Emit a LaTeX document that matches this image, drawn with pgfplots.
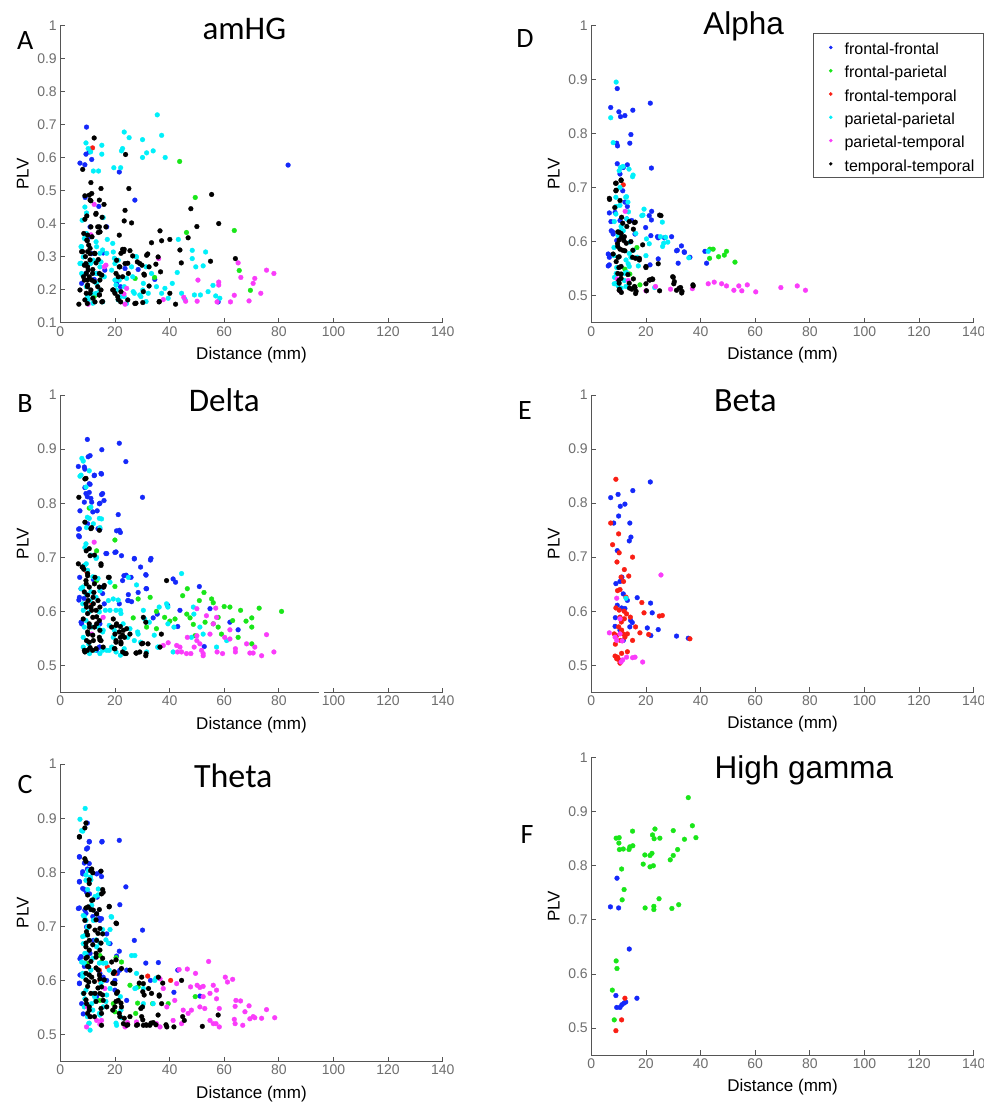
\documentclass[border=0pt]{standalone}
\usepackage{fontspec}
\setmainfont{Liberation Sans}
\newfontfamily\calfont{Carlito}
\usepackage{pgfplots}
\pgfplotsset{compat=1.18}

\definecolor{axgray}{RGB}{85,85,85}
\definecolor{tickgray}{RGB}{110,110,110}
\definecolor{ffc}{RGB}{20,40,250}
\definecolor{fpc}{RGB}{25,230,25}
\definecolor{ftc}{RGB}{250,30,20}
\definecolor{ppc}{RGB}{0,240,250}
\definecolor{ptc}{RGB}{250,60,250}
\definecolor{ttc}{RGB}{0,0,0}

\pgfplotsset{
  panel/.style={
    scale only axis, width=382.4pt, height=297.4pt,
    xmin=0, xmax=140, xtick={0,20,40,60,80,100,120,140},
    axis x line=bottom, axis y line=left,
    axis line style={-, draw=axgray, line width=0.9pt},
    tick style={draw=axgray, line width=0.8pt},
    tick align=inside, major tick length=5pt,
    ticklabel style={text=tickgray, font=\fontsize{14}{14}\selectfont},
    /pgf/number format/assume math mode=true,
    yticklabel style={/pgf/number format/fixed, /pgf/number format/precision=1},
    xlabel={Distance (mm)}, ylabel={PLV},
    label style={font=\fontsize{17}{17}\selectfont},
    xlabel style={at={(axis description cs:0.5,-0.108)}, anchor=center},
    ylabel style={at={(axis description cs:-0.098,0.5)}, anchor=center},
  },
  hiband/.style={ymin=0.45, ymax=1, ytick={0.5,0.6,0.7,0.8,0.9,1}},
  dots/.style={only marks, mark=*, mark size=2.4pt, color=#1,
    mark options={draw=#1, fill=#1, line width=0.3pt}},
  ff/.style={dots=ffc}, fp/.style={dots=fpc}, ft/.style={dots=ftc},
  pp/.style={dots=ppc}, pt/.style={dots=ptc}, tt/.style={dots=ttc},
}

\begin{document}
\begin{tikzpicture}
\useasboundingbox (0pt,0pt) rectangle (984pt,-1102pt);

% ---------------- A: amHG ----------------
\begin{axis}[panel, at={(60.3pt,-322.7pt)}, anchor=south west,
  ymin=0.1, ymax=1, ytick={0.1,0.2,0.3,0.4,0.5,0.6,0.7,0.8,0.9,1}]
\addplot[ff] coordinates {(9.6,0.692) (7.2,0.583) (9.0,0.578) (9.4,0.61) (11.5,0.594) (10.6,0.617) (21.6,0.556) (27.3,0.471) (83.4,0.577) (9.1,0.479) (14.1,0.452) (10.9,0.39) (17,0.39) (15.7,0.311) (11.5,0.309) (9.4,0.249) (13.3,0.249) (12.4,0.231) (16.3,0.259) (20.6,0.219) (22,0.209) (23.7,0.264) (28.5,0.261) (34.6,0.231) (57.8,0.163) (7.8,0.219) (10.9,0.36)};
\addplot[fp] coordinates {(43.7,0.588) (49.4,0.479) (46.2,0.373) (63.7,0.379) (65.5,0.258) (69.6,0.198) (27.4,0.234) (34.5,0.237) (14.9,0.244) (12.4,0.179)};
\addplot[ft] coordinates {(11.8,0.629)};
\addplot[pp] coordinates {(35.5,0.729) (23.4,0.677) (37.1,0.667) (25.2,0.66) (30.1,0.654) (22.8,0.627) (22.4,0.62) (31.6,0.614) (34,0.62) (30.1,0.6) (38.4,0.6) (9.4,0.644) (10.2,0.627) (11.1,0.617) (15.2,0.637) (15.2,0.61) (12.1,0.559) (14,0.559) (19.6,0.569) (22.1,0.569) (9,0.45) (9.6,0.432) (8,0.41) (15.7,0.418) (17.2,0.352) (7.8,0.33) (9.6,0.37) (13.3,0.33) (14.5,0.31) (7.2,0.279) (10.9,0.279) (14.5,0.269) (17,0.31) (19.4,0.314) (20,0.279) (21.2,0.289) (18.8,0.259) (20,0.229) (20.6,0.199) (22,0.179) (24.2,0.158) (24.3,0.234) (26.1,0.269) (27.9,0.299) (26.5,0.239) (26.7,0.194) (29.1,0.184) (30.4,0.219) (32.2,0.189) (33.4,0.249) (35.2,0.209) (37.1,0.189) (38.3,0.204) (39.5,0.174) (41,0.219) (42.8,0.252) (43.2,0.352) (44.4,0.189) (45.6,0.171) (48.3,0.319) (48.3,0.294) (49.6,0.269) (49.1,0.184) (51.3,0.184) (52.3,0.272) (53.2,0.314) (54.1,0.194) (55.9,0.213) (56.9,0.181) (58.4,0.174) (7.8,0.249) (9.9,0.209) (11.5,0.189) (14.5,0.199) (15.5,0.163) (8.4,0.299) (12.1,0.289) (19.4,0.199) (21.2,0.169) (13.3,0.219) (10.2,0.169)
 (7.6,0.33) (8.8,0.355) (13.1,0.345) (15.5,0.32) (7.6,0.28) (11.2,0.28) (14.9,0.284) (13.1,0.249) (8.2,0.244) (16.1,0.239) (9.5,0.209) (13.1,0.189) (11.9,0.159) (10,0.179) (19.2,0.34) (19.8,0.295) (21.6,0.229) (20.4,0.214) (23.4,0.209) (23.4,0.179) (27.1,0.189) (29.5,0.179) (30.2,0.199) (31.4,0.164) (27.7,0.3) (31.4,0.269)};
\addplot[pt] coordinates {(12.4,0.458) (11.2,0.366) (16.1,0.269) (16.7,0.274) (36,0.294) (65.1,0.281) (66.1,0.237) (71.2,0.234) (70.6,0.219) (75.5,0.259) (78.2,0.249) (73.4,0.189) (69.1,0.166) (63.7,0.183) (62.3,0.163) (58,0.223) (58,0.214) (57.4,0.163) (50.4,0.229) (50.1,0.165) (45.2,0.177) (45.9,0.165) (37.7,0.17) (24.3,0.204) (23.7,0.156) (10.2,0.156) (23.3,0.187)};
\addplot[tt] coordinates {(12.4,0.659) (23.9,0.609) (8.2,0.564) (11.2,0.524) (14.9,0.506) (25.1,0.506) (9,0.484) (11.5,0.491) (10.9,0.471) (13,0.428) (16,0.458) (23.7,0.44) (23.4,0.408) (26.1,0.402) (9,0.413) (13.7,0.39) (14.5,0.375) (21.6,0.365) (36.5,0.378) (33.4,0.342) (37.1,0.348) (40.1,0.352) (46.8,0.357) (47.8,0.445) (50,0.391) (55.4,0.488) (58,0.4) (43.8,0.32) (44.3,0.281) (55,0.286) (64.1,0.294) (31.6,0.304) (35.8,0.299) (29.1,0.279) (32.5,0.269) (28.2,0.284) (30.6,0.247) (36.7,0.254) (32.5,0.211) (30.4,0.194) (25.5,0.318) (22.8,0.322) (23.7,0.279) (24.9,0.249) (21.8,0.269) (20.6,0.289) (21.2,0.239) (7.8,0.315) (9.9,0.348) (10.9,0.309) (9.4,0.279) (10.2,0.259) (8.5,0.239) (11.5,0.229) (9.9,0.209) (10.9,0.189) (9,0.169) (12.7,0.309) (13.9,0.291) (14.5,0.229) (14.9,0.199) (14.3,0.184) (15.2,0.163) (12.7,0.163) (6.8,0.156) (9.9,0.158) (19.4,0.199) (20,0.189) (21.2,0.17) (22.1,0.163) (27.3,0.158) (30.2,0.161) (36.2,0.163) (40.1,0.189) (42.2,0.156) (9.9,0.229) (11.8,0.249) (8.6,0.37) (13.9,0.373) (10.9,0.325) (7.2,0.199) (15.2,0.244) (23.2,0.315)
 (10.6,0.486) (11.2,0.469) (14.3,0.471) (13.1,0.431) (9.7,0.423) (15.3,0.419) (14.3,0.39) (11.2,0.39) (16.7,0.39) (10,0.365) (11.6,0.36) (14.5,0.375) (9.7,0.35) (10.4,0.335) (8.2,0.315) (10,0.315) (12.5,0.31) (9.2,0.3) (10.9,0.29) (13.1,0.281) (8.8,0.274) (10,0.269) (11.9,0.261) (14.3,0.249) (9.5,0.249) (10.6,0.239) (8.8,0.229) (12.5,0.224) (10,0.214) (13.7,0.209) (11.2,0.199) (9.5,0.189) (14.3,0.184) (11.9,0.174) (15.5,0.164) (21.6,0.269) (23.4,0.322) (22.2,0.31) (24.7,0.28) (20.4,0.249) (22.8,0.239) (19.2,0.199) (22.2,0.194) (21,0.179) (24.7,0.169) (26.5,0.302) (32,0.308) (29.9,0.274) (35,0.277) (30.8,0.244) (36.2,0.164) (27.7,0.159)};
\end{axis}

% ---------------- B: Delta ----------------
\begin{axis}[panel, hiband, at={(60.3pt,-692.5pt)}, anchor=south west, clip=false]
\addplot[ff] coordinates {(9.9,0.918) (21.6,0.911) (15.2,0.899) (24,0.877) (10.2,0.886) (10.9,0.888) (6.6,0.868) (9,0.863) (15.1,0.854) (12.4,0.851) (30.1,0.811) (21.2,0.779) (7.2,0.786) (9,0.829) (10.9,0.835) (10.6,0.82) (9.9,0.812) (11.5,0.802) (14.5,0.8) (15.1,0.816) (16,0.805) (13.5,0.786) (6.7,0.752) (6.7,0.74) (20.6,0.749) (22,0.746) (14.5,0.752) (17,0.707) (20,0.709) (22.4,0.703) (27.1,0.697) (29.4,0.682) (33,0.695) (31.3,0.668) (23.3,0.666) (22.8,0.657) (24.9,0.631) (24.9,0.62) (26.1,0.618) (28.5,0.635) (31.6,0.642) (41.3,0.66) (42.2,0.654) (39.3,0.611) (35.5,0.595) (34,0.588) (43.8,0.602) (50.9,0.646) (54.8,0.605) (62.1,0.58) (65.1,0.566) (43,0.572) (52.7,0.535) (7.1,0.663) (6.8,0.621) (8.7,0.624) (12.1,0.659) (15.5,0.645) (14.5,0.577) (13.3,0.528) (14.5,0.534) (7.8,0.577)
 (8.8,0.867) (10.6,0.836) (12.5,0.852) (14.9,0.855) (9.4,0.818) (11.2,0.809) (14.3,0.799) (15.5,0.818) (8.8,0.802) (11.9,0.784) (10,0.762) (7,0.753) (7,0.738) (13.8,0.753) (16.7,0.707) (20.4,0.71) (21.6,0.75) (7.6,0.642) (7,0.626) (7.6,0.58) (15.5,0.633) (16.1,0.614) (21.6,0.614) (24.7,0.62) (25.9,0.663) (31.4,0.667) (31.4,0.642) (33.2,0.698) (27.1,0.698) (24.1,0.667) (14.3,0.534)};
\addplot[fp] coordinates {(20,0.732) (10.6,0.791) (13.3,0.712) (13.3,0.657) (20,0.646) (26.7,0.588) (28.5,0.623) (31.6,0.571) (35.2,0.568) (32.9,0.626) (35.2,0.6) (38.2,0.589) (40.1,0.582) (42,0.586) (44.8,0.629) (46.5,0.642) (46.3,0.595) (47.5,0.588) (48.7,0.576) (50.9,0.62) (52.6,0.635) (55.4,0.623) (56,0.616) (57.8,0.571) (59,0.558) (60,0.609) (62.1,0.608) (63.1,0.583) (66,0.602) (68,0.582) (70.1,0.588) (70.1,0.571) (72.8,0.606) (81,0.6) (65.1,0.552) (70.1,0.54) (56,0.577) (53,0.58) (49.3,0.555) (57.8,0.589)};
\addplot[ft] coordinates {(9.7,0.673) (11.5,0.615)};
\addplot[pp] coordinates {(8.4,0.878) (7.2,0.85) (10.6,0.86) (15.1,0.771) (14.5,0.755) (9.6,0.755) (9.9,0.774) (12.1,0.762) (9,0.718) (13.3,0.7) (9.5,0.688) (7.6,0.642) (9.5,0.632) (10.9,0.62) (14.5,0.638) (16.5,0.602) (18.2,0.602) (17.6,0.62) (19.4,0.623) (21.2,0.621) (22,0.602) (18.2,0.654) (24.9,0.663) (27.9,0.649) (23,0.577) (25.5,0.568) (28.5,0.558) (29.4,0.543) (31.6,0.525) (30.4,0.602) (30.9,0.586) (36.2,0.608) (38.9,0.614) (39.4,0.608) (39.4,0.577) (41.6,0.571) (44.4,0.67) (48.7,0.608) (48.9,0.595) (51.1,0.571) (52.3,0.558) (48,0.552) (41.3,0.525) (35.7,0.534) (8.4,0.552) (8.4,0.534) (10.4,0.54) (10.7,0.522) (12.7,0.528) (14.5,0.522) (17,0.528) (18.8,0.534) (20.4,0.525) (22,0.519) (19.4,0.552) (15.7,0.565) (8.4,0.602) (11.5,0.571) (57.2,0.534) (60.9,0.546)
 (7.9,0.883) (7.6,0.852) (9.4,0.83) (11.2,0.793) (10.6,0.772) (14.3,0.772) (9.4,0.725) (11.2,0.704) (13.1,0.698) (8.8,0.685) (10,0.676) (11.9,0.664) (13.8,0.661) (8.2,0.645) (11.2,0.636) (13.1,0.626) (8.2,0.614) (10.6,0.599) (14.3,0.599) (9.4,0.583) (13.8,0.571) (8.8,0.571) (15.5,0.562) (17.9,0.574) (20.4,0.602) (22.2,0.596) (19.8,0.565) (24.7,0.552) (27.1,0.546) (23.4,0.531) (17.9,0.528) (28.3,0.562) (32.6,0.58) (34.4,0.556) (35.7,0.534) (10.6,0.531) (15.5,0.528)};
\addplot[pt] coordinates {(12.4,0.728) (15.7,0.589) (11.5,0.558) (39.5,0.542) (42.6,0.537) (43.8,0.534) (42.9,0.525) (44.4,0.525) (46.5,0.552) (47.8,0.522) (49,0.534) (50,0.555) (50,0.546) (51.1,0.54) (51.7,0.528) (52.3,0.522) (52.3,0.518) (50,0.605) (54.8,0.558) (56,0.577) (57.2,0.589) (56.9,0.606) (57.4,0.525) (59.4,0.522) (60.2,0.552) (62.1,0.549) (64.1,0.531) (64.1,0.525) (68.2,0.54) (71.2,0.534) (69.4,0.523) (70.6,0.523) (73.7,0.518) (75.5,0.557) (78.2,0.525) (37.7,0.537) (53.5,0.592) (46.2,0.522) (62.1,0.566)};
\addplot[tt] coordinates {(6.8,0.811) (9,0.845) (9,0.765) (11.5,0.755) (9.5,0.712) (10.9,0.703) (8,0.682) (8.6,0.678) (10,0.666) (9.5,0.651) (14.9,0.685) (17.6,0.663) (15.9,0.645) (12.3,0.635) (12.7,0.663) (10.2,0.62) (9.6,0.608) (11.5,0.602) (12.1,0.614) (13.3,0.59) (14.5,0.608) (13.3,0.577) (10.7,0.571) (10.2,0.558) (8.4,0.586) (9,0.525) (9.9,0.528) (10.9,0.533) (14.5,0.547) (14.5,0.565) (11.8,0.528) (15.7,0.534) (19.4,0.586) (20.6,0.577) (18.8,0.571) (22,0.572) (23.1,0.565) (24.3,0.568) (20,0.558) (22,0.552) (23.5,0.552) (20.4,0.543) (22.2,0.54) (20,0.531) (22.8,0.525) (23.7,0.522) (25.5,0.558) (27.9,0.523) (29.1,0.525) (30.4,0.589) (31.3,0.58) (31.3,0.518) (29.8,0.54) (36.5,0.534) (37,0.558) (38.9,0.657) (9.6,0.546) (12.1,0.546) (6.6,0.688)
 (9.4,0.846) (11.2,0.753) (10.6,0.716) (14.3,0.75) (12.5,0.704) (14.9,0.688) (8.2,0.682) (10,0.67) (9.4,0.657) (10.6,0.645) (8.8,0.636) (12.5,0.651) (14.3,0.645) (17.9,0.663) (16.1,0.648) (10,0.63) (12,0.626) (13.8,0.62) (9.4,0.614) (11.2,0.608) (13.1,0.602) (10,0.596) (11.9,0.589) (14.3,0.583) (10.6,0.577) (12.5,0.571) (10,0.562) (11.9,0.556) (14.3,0.552) (10.6,0.543) (14.9,0.546) (8.8,0.528) (13.1,0.531) (20.4,0.574) (21.6,0.562) (22.8,0.556) (20.4,0.546) (22.2,0.543) (19.8,0.531) (24.1,0.522) (27.7,0.523) (30.2,0.541) (32.1,0.54) (31.4,0.522)};
% break in the x axis line
\fill[white] (axis cs:94.7,0.43) rectangle (axis cs:96.6,0.46);
\end{axis}

% ---------------- C: Theta ----------------
\begin{axis}[panel, hiband, at={(60.3pt,-1061.5pt)}, anchor=south west]
\addplot[ff] coordinates {(9.9,0.891) (7,0.828) (9.6,0.843) (10.6,0.856) (15.2,0.856) (21.6,0.859) (24,0.773) (7,0.782) (8.2,0.797) (9.9,0.806) (10.6,0.816) (13.3,0.797) (14.5,0.8) (15.1,0.792) (8.2,0.77) (9.6,0.763) (10.7,0.76) (13.5,0.754) (21.8,0.74) (6.6,0.733) (9,0.73) (13.3,0.723) (14.5,0.711) (15.1,0.714) (30.1,0.693) (27.1,0.674) (9.6,0.699) (12.1,0.674) (17,0.686) (18.2,0.668) (21.6,0.654) (20.6,0.645) (10.9,0.65) (7.2,0.64) (7.2,0.61) (7,0.594) (14.5,0.613) (15.7,0.606) (17,0.6) (20.9,0.613) (20,0.6) (20,0.582) (21.8,0.619) (24.3,0.619) (31.3,0.632) (35.9,0.633) (33,0.6) (43,0.619) (41.6,0.578) (51.1,0.571) (24.3,0.563) (7.8,0.557) (8.4,0.538) (13.3,0.57)
 (10.6,0.857) (15.3,0.857) (10,0.845) (7,0.829) (8.8,0.817) (8.2,0.801) (10.6,0.805) (7,0.783) (8.8,0.768) (7,0.734) (9.4,0.724) (11.9,0.718) (14.3,0.715) (7.6,0.644) (7,0.595) (7.6,0.61) (8.8,0.626)};
\addplot[fp] coordinates {(20.4,0.642) (22.4,0.634) (15.1,0.634) (25.5,0.591) (28.5,0.588) (28.3,0.558) (33.8,0.557) (39.5,0.557) (49.4,0.57) (27.6,0.539) (19.4,0.557) (20,0.542) (14.5,0.563) (14.5,0.646) (9.9,0.631)};
\addplot[ft] coordinates {(17.2,0.625) (14.3,0.619) (20,0.613) (32,0.608) (40.4,0.6) (14.5,0.6)};
\addplot[pp] coordinates {(9.1,0.918) (7.2,0.898) (7.8,0.877) (9.4,0.785) (10.2,0.803) (11,0.791) (11.5,0.739) (12.7,0.755) (13.9,0.769) (8.4,0.72) (9.4,0.711) (12.1,0.711) (10,0.699) (18.8,0.717) (18.2,0.694) (17.6,0.669) (14.5,0.669) (13.3,0.662) (9,0.683) (8.4,0.668) (9,0.65) (7.8,0.634) (8.2,0.613) (15.7,0.632) (26.1,0.646) (27.3,0.646) (27.9,0.613) (27.3,0.585) (30.4,0.585) (34.6,0.6) (34,0.557) (8.4,0.576) (9,0.566) (11.5,0.557) (9.9,0.533) (10.4,0.52) (10.9,0.508) (12.1,0.576) (13,0.563) (17,0.573) (20.6,0.517) (22.4,0.531) (30.4,0.557) (14.5,0.536) (15.7,0.551) (18.2,0.585) (22,0.57)
 (8.2,0.876) (9.4,0.795) (11.2,0.786) (10,0.768) (13.8,0.758) (8.8,0.718) (12.5,0.712) (10,0.697) (15.5,0.694) (18.6,0.718) (8.2,0.681) (13.1,0.675) (16.7,0.675) (9.4,0.65) (11.9,0.641) (14.3,0.632) (8.8,0.632) (11.2,0.619) (8.2,0.607) (14.9,0.595) (9.4,0.582) (12.5,0.57) (16.7,0.561) (8.8,0.551) (11.9,0.545) (14.3,0.539) (10.6,0.521) (20.4,0.521) (22.2,0.545) (27.7,0.586) (35,0.604) (16.7,0.632) (17.9,0.619)};
\addplot[pt] coordinates {(9.6,0.514) (14.5,0.519) (13.3,0.526) (23.7,0.514) (24.6,0.522) (27.9,0.523) (35.2,0.52) (36.5,0.514) (37.7,0.585) (36.5,0.603) (39,0.551) (41.3,0.526) (42.6,0.594) (43.5,0.62) (46.5,0.621) (47.7,0.588) (49.5,0.613) (50.1,0.591) (51.1,0.587) (52.3,0.589) (52.3,0.57) (54.3,0.635) (54.8,0.576) (56,0.591) (57.2,0.582) (57.2,0.566) (58.2,0.548) (57,0.52) (58.2,0.514) (54.8,0.526) (56,0.52) (60.4,0.606) (61.2,0.597) (63.1,0.602) (64.3,0.563) (66,0.562) (64,0.552) (67.6,0.542) (69.1,0.553) (69.4,0.529) (70.6,0.533) (71.2,0.531) (73.7,0.53) (75.5,0.546) (78.5,0.531) (63.7,0.528) (64,0.52) (66.8,0.517) (46.8,0.539) (48,0.545) (51.1,0.551) (52.9,0.548) (44.4,0.52) (45,0.545) (41.9,0.563) (9.9,0.551) (10.9,0.533) (15.1,0.526) (16.3,0.585)};
\addplot[tt] coordinates {(7,0.865) (9,0.882) (9,0.825) (11.1,0.803) (11.5,0.806) (10.6,0.779) (15.7,0.763) (15.1,0.76) (17.9,0.736) (20.6,0.705) (11.5,0.748) (10.2,0.736) (12.1,0.73) (9,0.711) (13.3,0.723) (9.6,0.69) (10.6,0.674) (12.7,0.693) (14.5,0.696) (15.5,0.686) (13.3,0.674) (9.4,0.662) (9.9,0.643) (10.4,0.625) (9.4,0.613) (10.4,0.597) (11.5,0.606) (13.1,0.643) (14.5,0.656) (13.9,0.619) (14.5,0.603) (15.1,0.588) (8.6,0.576) (9.6,0.557) (10.6,0.545) (10.9,0.533) (12.7,0.576) (14.5,0.576) (15.7,0.563) (15.1,0.539) (15.1,0.517) (17,0.551) (18.8,0.634) (19.4,0.613) (20,0.594) (20.6,0.576) (21.2,0.563) (22.4,0.551) (20,0.551) (21.8,0.533) (23.1,0.52) (24.3,0.517) (25.5,0.533) (22.4,0.622) (25.5,0.619) (29.8,0.606) (30.4,0.594) (30.7,0.573) (32.3,0.585) (33.4,0.576) (30.1,0.551) (29.8,0.533) (30.4,0.517) (27.9,0.517) (31.6,0.517) (32.8,0.517) (34,0.522) (35.9,0.606) (36.2,0.571) (37.1,0.557) (39,0.514) (41.6,0.514) (44.4,0.6) (44.8,0.533) (45.4,0.526) (52,0.515) (57.8,0.536) (35.8,0.536)
 (9.4,0.891) (7,0.866) (9.4,0.82) (11.9,0.799) (14.9,0.802) (10.6,0.786) (15.5,0.768) (10,0.758) (11.9,0.749) (17.9,0.737) (9.4,0.734) (11.2,0.731) (14.3,0.731) (13.1,0.712) (10.6,0.7) (20.4,0.706) (10,0.684) (13.8,0.687) (9.4,0.669) (11.9,0.666) (14.9,0.669) (10.6,0.656) (13.1,0.65) (9.4,0.641) (11.2,0.635) (15.5,0.641) (10,0.626) (13.1,0.623) (10.6,0.61) (14.3,0.61) (9.4,0.601) (12.5,0.598) (16.1,0.601) (10,0.589) (13.8,0.586) (11.2,0.576) (15.5,0.573) (9.4,0.564) (13.1,0.561) (10.6,0.551) (14.9,0.548) (10,0.539) (12.5,0.533) (20.4,0.638) (19.8,0.616) (19.2,0.595) (21,0.579) (20.4,0.561) (22.2,0.558) (19.2,0.545) (21.6,0.539) (23.4,0.53) (24.7,0.518) (28.3,0.518) (30.2,0.527) (31.4,0.518) (29.5,0.548) (28.9,0.595) (30.2,0.579) (37.5,0.595) (36.2,0.573) (33.2,0.521) (35,0.518) (38.7,0.518)};
\end{axis}

% ---------------- D: Alpha ----------------
\begin{axis}[panel, hiband, at={(591.3pt,-322.7pt)}, anchor=south west,
  legend cell align=left,
  legend image code/.code={\path[draw=none, fill=none] (0pt,-1pt) rectangle (10.6pt,1pt);
    \draw[#1, mark size=1.6pt] plot coordinates {(9pt,0pt)};},
  legend style={at={(1.0251,0.9731)}, anchor=north east,
    draw=axgray, line width=0.8pt, fill=white,
    inner xsep=8.5pt, inner ysep=4pt, row sep=3.78pt, column sep=12.2pt,
    nodes={inner sep=0pt, text height=17pt, text depth=2.5pt,
      font=\fontsize{16}{16}\selectfont}}]
\addplot[ff] coordinates {(9.5,0.883) (7.1,0.848) (10.1,0.84) (10.7,0.831) (12.3,0.833) (15.2,0.843) (21.6,0.856) (9.3,0.782) (9.6,0.777) (14.1,0.782) (14.5,0.798) (9.5,0.744) (13.2,0.742) (22,0.736) (11.7,0.737) (10.5,0.725) (11.5,0.694) (12.3,0.673) (13.2,0.665) (6.6,0.653) (8.7,0.654) (13,0.642) (22.1,0.656) (21.2,0.648) (19.9,0.626) (7.3,0.62) (8,0.614) (6.2,0.577) (6.6,0.571) (6.2,0.555) (21.8,0.611) (24.5,0.607) (29.4,0.609) (26.8,0.607) (31.2,0.583) (33,0.592) (34.1,0.58) (36.1,0.571) (31.8,0.56) (41.6,0.582) (42.2,0.56) (24.5,0.568) (21.5,0.557) (14.8,0.639) (16,0.614) (10.5,0.639) (9.3,0.602)
 (7.2,0.637) (7.8,0.618) (6.6,0.575) (6.6,0.557) (24.2,0.609) (22,0.64) (31.5,0.584) (34,0.581)};
\addlegendentry{frontal-frontal}
\addplot[fp] coordinates {(43.4,0.586) (44.6,0.586) (43.3,0.569) (46.6,0.572) (48.7,0.575) (49.5,0.582) (52.6,0.562) (16.7,0.589) (12.3,0.549) (14.1,0.54) (17.8,0.52)};
\addlegendentry{frontal-parietal}
\addplot[ft] coordinates {(11.7,0.705)};
\addlegendentry{frontal-temporal}
\addplot[pp] coordinates {(9.1,0.895) (7.1,0.829) (8,0.783) (10.7,0.737) (10.2,0.731) (13.8,0.734) (15.1,0.72) (10.5,0.7) (9,0.682) (12.6,0.682) (13.4,0.673) (9,0.651) (19.3,0.66) (18.5,0.648) (26,0.636) (10.5,0.667) (13,0.642) (20.2,0.605) (20,0.574) (21.2,0.596) (27.2,0.608) (28,0.599) (26.1,0.591) (35.7,0.57) (42.8,0.582) (8.3,0.574) (8.3,0.589) (9.8,0.611) (10.7,0.62) (11.7,0.62) (15.4,0.584) (14.5,0.571) (13.5,0.559) (17.2,0.555) (16.8,0.571) (9.3,0.552) (8.5,0.534) (9.8,0.518) (10.9,0.514) (8.4,0.522) (23.2,0.515) (12.1,0.528) (12.9,0.543) (14.1,0.599)
 (11.6,0.739) (15.3,0.723) (12.9,0.683) (9.1,0.665) (13.6,0.655) (18.9,0.649) (8.4,0.637) (10.9,0.628) (16.3,0.615) (25.3,0.609) (26.5,0.597) (13.9,0.578) (12.7,0.566) (13.9,0.554) (9.1,0.541) (12.1,0.541) (9.1,0.523) (12.7,0.517)};
\addlegendentry{parietal-parietal}
\addplot[pt] coordinates {(12.4,0.656) (13.5,0.528) (9.5,0.531) (23.5,0.517) (20,0.509) (29,0.512) (37,0.513) (42.8,0.522) (45,0.525) (47.7,0.522) (49.5,0.518) (52.2,0.51) (54,0.518) (55.1,0.509) (57.1,0.52) (60.2,0.507) (69.4,0.515) (75.4,0.518) (78.4,0.51) (10.5,0.509)};
\addlegendentry{parietal-temporal}
\addplot[tt] coordinates {(8.9,0.708) (10.9,0.713) (9,0.694) (6.7,0.678) (10.5,0.676) (13,0.628) (16.1,0.636) (15.4,0.623) (10.2,0.617) (11.1,0.608) (11.9,0.602) (9.6,0.596) (8,0.577) (9.8,0.571) (10.5,0.586) (12.3,0.583) (15.1,0.571) (16.2,0.569) (17.6,0.566) (18.8,0.594) (10.1,0.552) (10.9,0.54) (10.1,0.528) (10.3,0.512) (11,0.506) (13.4,0.539) (15.4,0.531) (16,0.515) (16.2,0.504) (14.8,0.512) (20,0.552) (20,0.522) (20.2,0.509) (21.5,0.529) (22.3,0.531) (24.5,0.559) (25.5,0.648) (25,0.509) (30,0.534) (30.2,0.522) (31.2,0.51) (32.7,0.515) (33.1,0.505) (37.3,0.518) (11.1,0.645) (8.6,0.663)
 (10.9,0.714) (9.1,0.708) (9.1,0.695) (6.6,0.68) (11.5,0.634) (13.9,0.637) (15.8,0.635) (9.7,0.618) (10.9,0.615) (12.1,0.609) (10.2,0.603) (12.8,0.597) (9.7,0.591) (11.5,0.584) (14.5,0.6) (15.2,0.584) (10.2,0.572) (9.1,0.563) (10.9,0.554) (9.7,0.541) (10.9,0.532) (10.2,0.523) (10.2,0.51) (13.9,0.523) (15.8,0.517) (16.4,0.508) (14,0.514) (17.6,0.569) (20,0.554) (21.2,0.529) (22.5,0.53) (25,0.649) (29.8,0.535) (30.4,0.526) (32.2,0.514) (33.2,0.508) (37.2,0.52)};
\addlegendentry{temporal-temporal}
\end{axis}

% ---------------- E: Beta ----------------
\begin{axis}[panel, hiband, at={(591.3pt,-692.3pt)}, anchor=south west]
\addplot[ff] coordinates {(7.1,0.81) (9.8,0.816) (10.6,0.794) (12.3,0.798) (15.2,0.823) (21.6,0.839) (10,0.776) (8.2,0.763) (14.1,0.763) (14.5,0.737) (13.9,0.73) (9.5,0.712) (11.2,0.663) (9,0.651) (10.5,0.655) (11.7,0.632) (13.2,0.62) (16.8,0.625) (9.5,0.611) (11.1,0.606) (12.3,0.605) (8.8,0.588) (14.4,0.583) (15,0.579) (14.1,0.571) (21.7,0.615) (22.3,0.597) (20.5,0.569) (21.8,0.555) (24.5,0.566) (31.2,0.554) (35.5,0.55) (8.7,0.572) (11.7,0.546) (10.5,0.565)};
\addplot[ft] coordinates {(9,0.844) (7.1,0.763) (7.8,0.723) (10,0.743) (10.2,0.708) (9.4,0.691) (15.1,0.7) (12.1,0.677) (10.9,0.663) (11.8,0.655) (13.7,0.665) (9.6,0.638) (10.5,0.64) (12.7,0.626) (9,0.606) (10.2,0.602) (12,0.6) (12.9,0.595) (10.5,0.589) (11,0.58) (12.1,0.586) (10,0.571) (11.1,0.565) (9.3,0.555) (11.7,0.558) (13.2,0.558) (8.8,0.539) (10.6,0.546) (12.3,0.552) (16.2,0.571) (17.8,0.56) (15.1,0.546) (13.2,0.525) (8.7,0.517) (9.6,0.515) (10.2,0.51) (10.5,0.504) (9.3,0.512) (18.5,0.616) (19.3,0.597) (21,0.557) (24.9,0.591) (26,0.592) (36.1,0.549) (14.3,0.589) (8.4,0.558) (11.1,0.522)};
\addplot[pp] coordinates {(12.7,0.624)};
\addplot[pt] coordinates {(25.5,0.667) (9.3,0.624) (6.6,0.56) (8.7,0.552) (9.3,0.546) (10.5,0.558) (11.3,0.545) (10.5,0.586) (12.9,0.515) (15.1,0.514) (16,0.515) (18.8,0.506) (10.9,0.506) (11.5,0.51)};
\end{axis}

% ---------------- F: High gamma ----------------
\begin{axis}[panel, hiband, at={(591.3pt,-1055pt)}, anchor=south west]
\addplot[ff] coordinates {(9.4,0.777) (7,0.724) (10,0.722) (13.9,0.646) (9,0.56) (9.3,0.538) (10.5,0.538) (11.2,0.543) (12,0.546) (12.6,0.548) (16.7,0.555)};
\addplot[fp] coordinates {(35.5,0.926) (37,0.874) (38.3,0.852) (34.1,0.849) (30,0.865) (31.6,0.83) (30,0.819) (28.9,0.811) (25.1,0.851) (23.3,0.868) (23,0.85) (22.4,0.857) (22.2,0.823) (21.5,0.819) (22.7,0.8) (21.5,0.798) (19.6,0.82) (19,0.803) (15.1,0.864) (15.2,0.837) (14.1,0.835) (13.8,0.83) (11.7,0.831) (10.3,0.83) (10.1,0.842) (9.1,0.851) (10.2,0.852) (11.1,0.794) (12,0.756) (11.3,0.737) (19.7,0.722) (22.9,0.725) (22.9,0.719) (24.8,0.739) (29.5,0.721) (32,0.728) (9.1,0.624) (9.4,0.61) (7.7,0.57) (8.4,0.515)};
\addplot[ft] coordinates {(12.3,0.555) (11.1,0.515) (9,0.495)};
\end{axis}

% ---------------- titles and panel letters ----------------
\node[anchor=base, font=\calfont\fontsize{33}{33}\selectfont] at (244.3pt,-39.3pt) {amHG};
\node[anchor=base, font=\calfont\fontsize{33}{33}\selectfont] at (224.3pt,-411.7pt) {Delta};
\node[anchor=base, font=\calfont\fontsize{34}{34}\selectfont] at (233.3pt,-787.3pt) {Theta};
\node[anchor=base, font=\fontsize{31.5}{31.5}\selectfont] at (743.7pt,-35pt) {Alpha};
\node[anchor=base, font=\calfont\fontsize{34}{34}\selectfont] at (745.3pt,-411.7pt) {Beta};
\node[anchor=base, font=\fontsize{31.5}{31.5}\selectfont] at (804pt,-778.3pt) {High gamma};

\node[anchor=base, font=\calfont\fontsize{28}{28}\selectfont] at (25.3pt,-50pt) {A};
\node[anchor=base, font=\calfont\fontsize{28}{28}\selectfont] at (25pt,-412.7pt) {B};
\node[anchor=base, font=\calfont\fontsize{28}{28}\selectfont] at (25pt,-793.3pt) {C};
\node[anchor=base, font=\calfont\fontsize{28}{28}\selectfont] at (525pt,-48pt) {D};
\node[anchor=base, font=\calfont\fontsize{28}{28}\selectfont] at (525pt,-419pt) {E};
\node[anchor=base, font=\calfont\fontsize{28}{28}\selectfont] at (527pt,-843pt) {F};
\end{tikzpicture}
\end{document}
